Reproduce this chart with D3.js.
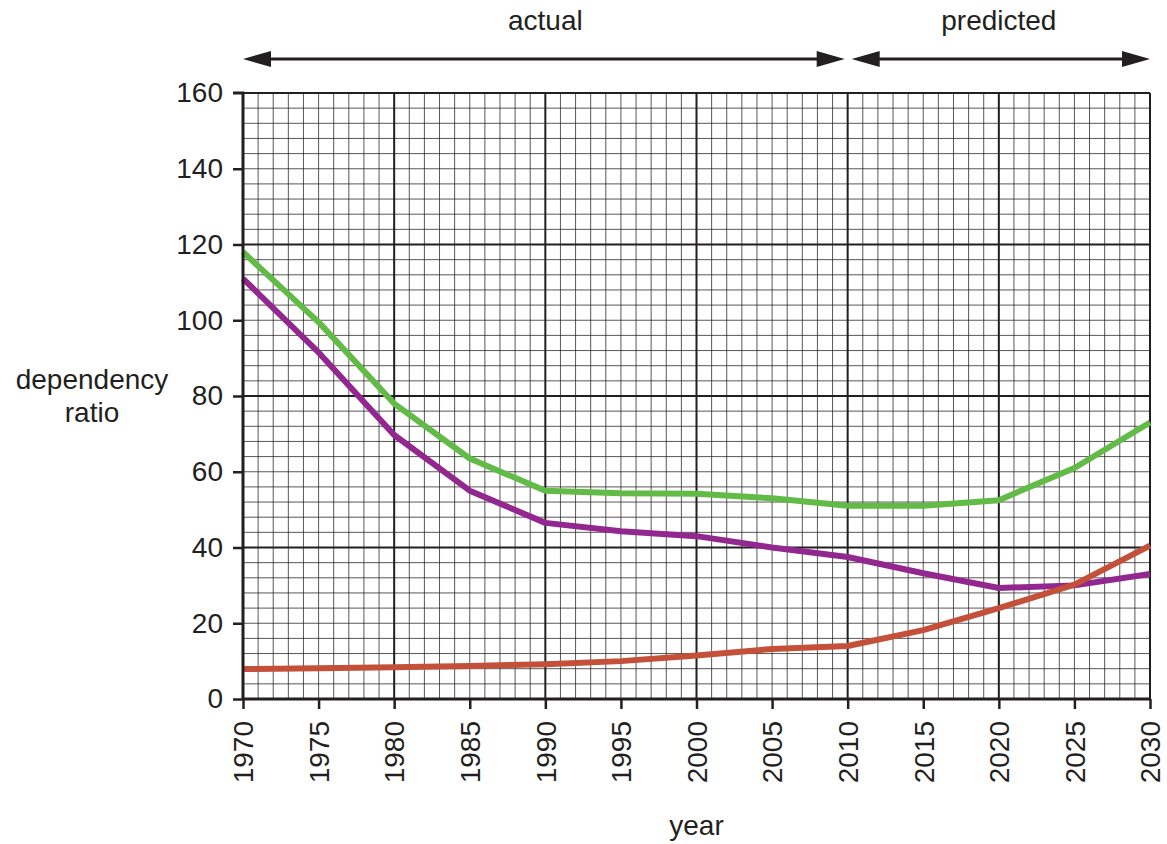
<!DOCTYPE html>
<html><head><meta charset="utf-8">
<script src="https://cdn.jsdelivr.net/npm/d3@7"></script>
<style>body{margin:0;background:#fff}svg{display:block}text{font-family:"Liberation Sans",Arial,sans-serif;fill:#231f20}</style>
</head><body><svg id="c" width="1167" height="844"></svg>
<script>
const years = [1970,1975,1980,1985,1990,1995,2000,2005,2010,2015,2020,2025,2030];
const green = [118,99.5,78,63.5,55,54.3,54.2,53,51,51,52.5,61,73];
const purple = [111,91.5,69.7,55,46.5,44.3,43,40,37.5,33.2,29.3,30,33];
const red = [7.9,8.1,8.4,8.7,9.2,10,11.5,13.2,14,18.2,24,30.2,40.5];
const yTicks = [0,20,40,60,80,100,120,140,160];
const xTicks = years;
const periods = [{label:"actual", from:1970, to:2010},{label:"predicted", from:2010, to:2030}];
const colors = {green:"#62bb46", purple:"#92278f", red:"#c4503a"};

const svg = d3.select("#c");
const x = d3.scaleLinear().domain([1970,2030]).range([243,1150]);
const y = d3.scaleLinear().domain([0,160]).range([699,93]);
const ink = "#231f20";
const FS = 28;

const g = svg.append("g");
d3.range(1971,2030).forEach(v=>{
  const major = v%10===0;
  g.append("line").attr("x1",x(v)).attr("x2",x(v)).attr("y1",y(0)).attr("y2",y(160))
   .attr("stroke",ink).attr("stroke-width",major?2:1).attr("stroke-opacity",major?1:0.75);
});
d3.range(4,160,4).forEach(v=>{
  const major = v%40===0;
  g.append("line").attr("x1",x(1970)).attr("x2",x(2030)).attr("y1",y(v)).attr("y2",y(v))
   .attr("stroke",ink).attr("stroke-width",major?2:1).attr("stroke-opacity",major?1:0.75);
});
g.append("line").attr("x1",x(1970)).attr("x2",x(2030)).attr("y1",y(160)).attr("y2",y(160)).attr("stroke",ink).attr("stroke-width",2);
g.append("line").attr("x1",x(2030)).attr("x2",x(2030)).attr("y1",y(0)).attr("y2",y(160)).attr("stroke",ink).attr("stroke-width",2);

const line = d3.line().x((d,i)=>x(years[i])).y(d=>y(d));
[[green,colors.green],[purple,colors.purple],[red,colors.red]].forEach(([data,c])=>{
  svg.append("path").attr("d",line(data)).attr("fill","none").attr("stroke",c)
   .attr("stroke-width",6).attr("stroke-linejoin","round");
});

const yAxis = d3.axisLeft(y).tickValues(yTicks).tickSize(10).tickPadding(10);
const ya = svg.append("g").attr("transform",`translate(${x(1970)},0)`).call(yAxis);
ya.select(".domain").attr("stroke",ink).attr("stroke-width",3).attr("d",`M-10,${y(160)}H0V${y(0)}`);
ya.selectAll(".tick line").attr("stroke",ink).attr("stroke-width",2.5);
ya.selectAll(".tick text").attr("font-size",FS).attr("fill",ink).attr("font-family","Liberation Sans, Arial, sans-serif");
ya.selectAll(".tick").filter(d=>d===160).select("line").remove();

const xAxis = d3.axisBottom(x).tickValues(xTicks).tickSize(10).tickFormat(d3.format("d"));
const xa = svg.append("g").attr("transform",`translate(0,${y(0)})`).call(xAxis);
xa.select(".domain").attr("stroke",ink).attr("stroke-width",3).attr("d",`M${x(1970)},0H${x(2030)}`);
xa.selectAll(".tick line").attr("stroke",ink).attr("stroke-width",2.5);
xa.selectAll(".tick text").attr("font-size",FS).attr("fill",ink).attr("font-family","Liberation Sans, Arial, sans-serif")
  .attr("transform","rotate(-90)").attr("text-anchor","end").attr("x",-22).attr("y",0).attr("dy","0.35em");

svg.append("text").attr("x",x(2000)).attr("y",835).attr("text-anchor","middle").attr("font-size",FS).text("year");
const yt = svg.append("text").attr("text-anchor","middle").attr("font-size",FS);
yt.append("tspan").attr("x",92).attr("y",389).text("dependency");
yt.append("tspan").attr("x",92).attr("y",422).text("ratio");

const ay = 59;
periods.forEach((p,i)=>{
  const x1 = x(p.from) + (i===0?0:4), x2 = x(p.to) - (i===0?3:0);
  svg.append("line").attr("x1",x1+20).attr("x2",x2-20).attr("y1",ay).attr("y2",ay).attr("stroke",ink).attr("stroke-width",3);
  svg.append("path").attr("d",`M${x1},${ay}L${x1+28},${ay-8}L${x1+28},${ay+8}Z`).attr("fill",ink);
  svg.append("path").attr("d",`M${x2},${ay}L${x2-28},${ay-8}L${x2-28},${ay+8}Z`).attr("fill",ink);
  svg.append("text").attr("x",(x(p.from)+x(p.to))/2).attr("y",30).attr("text-anchor","middle").attr("font-size",FS).text(p.label);
});
</script></body></html>
